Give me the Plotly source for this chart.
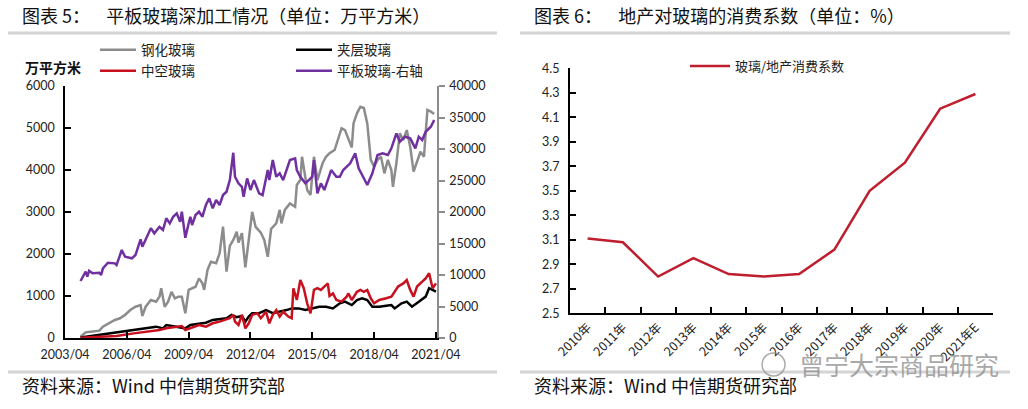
import plotly.graph_objects as go

# ---------------- Left chart data (万平方米 / 右轴 万重量箱) ----------------
gray_dates = ["2004-01","2004-04","2004-07","2004-12",
              "2005-02","2005-06","2005-09","2005-12",
              "2006-03","2006-06","2006-09","2006-12",
              "2007-01","2007-03","2007-06","2007-09","2007-11","2007-12",
              "2008-02","2008-04","2008-06","2008-08","2008-10","2008-12",
              "2009-02","2009-04","2009-06","2009-08","2009-10","2009-12",
              "2010-01","2010-03","2010-05","2010-08","2010-10","2010-12",
              "2011-02","2011-04","2011-06","2011-08","2011-09","2011-11",
              "2012-01","2012-03","2012-05","2012-07","2012-10","2012-12",
              "2013-02","2013-04","2013-07","2013-09","2013-10","2013-12",
              "2014-03","2014-06","2014-07","2014-09","2014-10","2014-12",
              "2015-01","2015-03","2015-05","2015-07","2015-10","2015-12",
              "2016-02","2016-05","2016-07","2016-09","2016-11",
              "2017-01","2017-03","2017-04","2017-06","2017-08","2017-10","2017-12",
              "2018-02","2018-04","2018-06","2018-08","2018-10","2018-12",
              "2019-02","2019-03","2019-05","2019-07","2019-09","2019-11",
              "2020-01","2020-03","2020-05","2020-07","2020-09","2020-11",
              "2021-01","2021-03"]
gray_vals = [30, 135, 150, 175,
             270, 365, 430, 470,
             550, 665, 745, 785,
             525, 745, 905, 865, 985, 1185,
             745, 865, 1100, 945, 985, 985,
             590, 1145, 1185, 1220, 1420, 1300,
             1145, 1620, 1815, 1780, 2015, 2650,
             1580, 2195, 2335, 2530, 2275, 2495,
             1680, 2295, 3005, 2645, 2510, 2335,
             1935, 2595, 2730, 3050, 2730, 3050,
             3205, 3125, 3645, 3760, 4315, 3810,
             3525, 3405, 4315, 3760, 4160, 4315,
             4400, 4475, 4755, 4995, 4950,
             4715, 4535, 5110, 5350, 5505, 5475, 5110,
             4240, 4080, 4240, 4315, 3920, 4240,
             4000, 3600, 4160, 4875, 4715, 4950,
             4555, 3960, 4200, 4435, 4315, 5430,
             5390, 5335]

black_dates = ["2004-01","2004-12","2005-10","2006-08","2007-03","2007-09",
               "2008-01","2008-03","2008-09","2009-02","2009-05","2009-10",
               "2010-02","2010-06","2010-10","2011-02","2011-05","2011-08","2011-11",
               "2012-01","2012-03","2012-05","2012-09","2013-01","2013-05","2013-09",
               "2014-01","2014-04","2014-08","2014-12","2015-04","2015-08","2015-12",
               "2016-04","2016-08","2016-11","2017-03","2017-06","2017-09","2017-12",
               "2018-03","2018-07","2018-11","2019-02","2019-04","2019-08","2019-11",
               "2020-02","2020-06","2020-10","2020-12","2021-02","2021-04"]
black_vals = [10, 70, 135, 175, 230, 270,
              230, 310, 270, 230, 310, 350,
              365, 430, 445, 470, 550, 495, 525,
              390, 510, 590, 590, 665, 590, 625,
              665, 705, 705, 665, 705, 745, 745,
              705, 825, 865, 785, 905, 945, 905,
              745, 745, 770, 785, 705, 825, 865,
              745, 865, 985, 1185, 1145, 1105]

red_dates = ["2004-01","2004-12","2005-10","2006-08","2007-05","2007-11",
             "2008-03","2008-09","2008-12","2009-02","2009-06","2009-10",
             "2010-02","2010-06","2010-10",
             "2011-01","2011-04","2011-06","2011-07","2011-09","2011-11",
             "2012-01","2012-03","2012-05","2012-08","2012-10",
             "2013-01","2013-03","2013-05","2013-07","2013-09","2013-11",
             "2014-02","2014-04","2014-05","2014-07","2014-09","2014-11",
             "2015-01","2015-03","2015-05","2015-07","2015-09","2015-11",
             "2016-01","2016-02","2016-04","2016-06","2016-09","2016-12",
             "2017-01","2017-03","2017-06","2017-08","2017-10","2017-12",
             "2018-02","2018-04","2018-07","2018-11",
             "2019-02","2019-06","2019-09","2019-11",
             "2020-01","2020-03","2020-05","2020-08","2020-10","2020-12",
             "2021-02","2021-04"]
red_vals = [5, 20, 50, 110, 150, 190,
            230, 255, 285, 190, 255, 310,
            270, 350, 390,
            430, 470, 550, 390, 310, 550,
            230, 350, 550, 590, 470,
            625, 350, 550, 665, 510, 625,
            510, 470, 1185, 905, 1380, 1185,
            825, 585, 1145, 1185, 1145, 1225,
            1300, 1000, 1060, 905, 865, 985,
            1060, 905, 1100, 1145, 1100, 1145,
            945, 825, 905, 945,
            985, 1225, 1300, 1380,
            1145, 985, 1225, 1340, 1420, 1540,
            1185, 1300]

purple_dates = ["2004-01","2004-04","2004-05","2004-06","2004-08","2004-12",
                "2005-01","2005-02","2005-05","2005-09","2005-10","2005-12",
                "2006-01","2006-03","2006-07","2006-09","2006-12",
                "2007-01","2007-04","2007-06","2007-08","2007-11",
                "2008-01","2008-03","2008-05","2008-07","2008-09","2008-11","2008-12",
                "2009-02","2009-04","2009-05","2009-06","2009-08","2009-10","2009-12",
                "2010-02","2010-04","2010-06","2010-08","2010-10","2010-12",
                "2011-02","2011-04","2011-06","2011-07","2011-09","2011-11","2011-12",
                "2012-02","2012-04","2012-06","2012-09","2012-11",
                "2013-02","2013-03","2013-05","2013-07","2013-09","2013-11",
                "2014-03","2014-06","2014-07","2014-09","2014-12",
                "2015-04","2015-05","2015-07","2015-09","2015-11",
                "2016-01","2016-03","2016-06","2016-08","2016-10",
                "2017-02","2017-05","2017-07","2017-09","2017-12",
                "2018-03","2018-06","2018-09","2018-12",
                "2019-02","2019-05","2019-07","2019-10",
                "2020-01","2020-04","2020-06","2020-08","2020-10",
                "2021-01","2021-03"]
purple_vals = [9050, 10520, 9730, 10680, 10270, 10360,
               10000, 11060, 11950, 11850, 11580, 13440,
               13970, 12900, 12650, 13170, 15660,
               14490, 16350, 17410, 16620, 17660,
               17140, 19000, 18200, 19250, 19790, 18460, 20040,
               15900, 18200, 19250, 17930, 19520, 20040, 19250,
               21110, 22170, 20580, 21900, 21110, 22690,
               23220, 25070, 29400, 25600, 24550, 24010, 22420,
               25340, 23490, 25070, 22960, 22690,
               26660, 25070, 28250, 25600, 26140, 25070,
               28250, 28520, 26660, 25600, 24550,
               25600, 28250, 22960, 24550, 23490,
               25070, 26660, 25600, 25600, 26660,
               27720, 29310, 26930, 25870, 24280,
               26140, 29040, 29310, 29040,
               30100, 32480, 31150, 31950,
               31690, 30100, 31950, 31420, 32740,
               33530, 34600]

left_tick_dates = ["2003-04-01", "2006-04-01", "2009-04-01", "2012-04-01",
                   "2015-04-01", "2018-04-01", "2021-04-01"]
left_tick_text = ["2003/04", "2006/04", "2009/04", "2012/04",
                  "2015/04", "2018/04", "2021/04"]

# ---------------- Right chart data ----------------
years = ["2010年", "2011年", "2012年", "2013年", "2014年", "2015年",
         "2016年", "2017年", "2018年", "2019年", "2020年", "2021年E"]
coef = [3.11, 3.08, 2.80, 2.95, 2.82, 2.80, 2.82, 3.02, 3.50, 3.73, 4.17, 4.29]

W, H = 1028, 409
def px_x(v): return v / W
def px_y(v): return 1 - v / H

CJK = "Noto Sans CJK SC"
NUM = "Lato, Noto Sans CJK SC"
NB = "\u00a0"

fig = go.Figure()
fig.add_trace(go.Scatter(x=gray_dates, y=gray_vals, name="钢化玻璃", mode="lines",
                         line=dict(color="#8C8C8C", width=2.5), xaxis="x", yaxis="y",
                         legend="legend"))
fig.add_trace(go.Scatter(x=black_dates, y=black_vals, name="夹层玻璃", mode="lines",
                         line=dict(color="#000000", width=2.5), xaxis="x", yaxis="y",
                         legend="legend"))
fig.add_trace(go.Scatter(x=red_dates, y=red_vals, name="中空玻璃", mode="lines",
                         line=dict(color="#C8101E", width=2.5), xaxis="x", yaxis="y",
                         legend="legend2"))
fig.add_trace(go.Scatter(x=purple_dates, y=purple_vals, name="平板玻璃-右轴", mode="lines",
                         line=dict(color="#7030A0", width=2.5), xaxis="x", yaxis="y2",
                         legend="legend2"))
fig.add_trace(go.Scatter(x=years, y=coef, name="玻璃/地产消费系数", mode="lines",
                         line=dict(color="#BE1E2D", width=2.5), xaxis="x2", yaxis="y3",
                         legend="legend3"))

tickfont = dict(family=NUM, size=12.5, color="#222")

fig.update_layout(
    width=W, height=H, margin=dict(l=0, r=0, t=0, b=0, autoexpand=False),
    paper_bgcolor="white", plot_bgcolor="white",
    font=dict(family=CJK, size=13, color="#222"),
    showlegend=True,
    xaxis=dict(domain=[px_x(65), px_x(437)], type="date",
               range=["2003-04-01", "2021-04-20"],
               tickmode="array", tickvals=left_tick_dates, ticktext=left_tick_text,
               ticks="inside", ticklen=6, tickwidth=1.5, tickcolor="#000",
               showline=True, linecolor="#000", linewidth=1.5, automargin=False,
               showgrid=False, zeroline=False, anchor="y", tickfont=tickfont,
               ticklabelstandoff=4),
    yaxis=dict(domain=[px_y(338), px_y(86)], range=[0, 6000], dtick=1000,
               ticks="inside", ticklen=6, tickwidth=1.5, tickcolor="#000",
               showline=True, linecolor="#000", linewidth=1.5, automargin=False,
               showgrid=False, zeroline=False, anchor="x", tickfont=tickfont,
               ticklabelstandoff=6),
    yaxis2=dict(overlaying="y", side="right", range=[0, 40000], dtick=5000,
                tickformat="d", automargin=False,
                ticks="outside", ticklen=6, tickwidth=1.5, tickcolor="#8C8C8C",
                showline=True, linecolor="#8C8C8C", linewidth=1.5,
                showgrid=False, zeroline=False, anchor="x", tickfont=tickfont,
                ticklabelstandoff=2),
    xaxis2=dict(domain=[px_x(570), px_x(993)], type="category",
                range=[-0.5, len(years) - 0.5],
                ticks="inside", tickson="boundaries", ticklen=6, tickwidth=1.5,
                tickcolor="#000", showline=True, linecolor="#000", linewidth=2,
                showgrid=False, zeroline=False, anchor="y3", tickangle=-45,
                automargin=False,
                tickfont=dict(family=CJK, size=12.5, color="#222")),
    yaxis3=dict(domain=[px_y(313.3), px_y(68.3)], range=[2.5, 4.5], dtick=0.2,
                tick0=2.5, tickformat=".1f", ticks="inside", ticklen=6, tickwidth=1.5,
                tickcolor="#000", showline=True, linecolor="#000", linewidth=2,
                showgrid=False, zeroline=False, anchor="x2", tickfont=tickfont,
                automargin=False, ticklabelstandoff=6),
    legend=dict(x=px_x(95), y=px_y(50), xanchor="left", yanchor="middle",
                orientation="h", entrywidth=145, entrywidthmode="pixels",
                font=dict(family=CJK, size=13.5, color="#222"),
                bgcolor="rgba(0,0,0,0)", traceorder="normal", itemwidth=36),
    legend2=dict(x=px_x(95), y=px_y(71), xanchor="left", yanchor="middle",
                 orientation="h", entrywidth=145, entrywidthmode="pixels",
                 font=dict(family=CJK, size=13.5, color="#222"),
                 bgcolor="rgba(0,0,0,0)", traceorder="normal", itemwidth=36),
    legend3=dict(x=px_x(685), y=px_y(66), xanchor="left", yanchor="middle",
                 orientation="h",
                 font=dict(family=CJK, size=13, color="#222"),
                 bgcolor="rgba(0,0,0,0)", itemwidth=40),
)

title_font = dict(family=CJK, size=18, color="#111")
annotations = [
    dict(text="图表" + NB + "5：" + NB * 4 + "平板玻璃深加工情况（单位：万平方米）",
         x=px_x(20), y=px_y(15), xanchor="left", yanchor="middle", font=title_font),
    dict(text="图表" + NB + "6：" + NB * 4 + "地产对玻璃的消费系数（单位：%）",
         x=px_x(532), y=px_y(15), xanchor="left", yanchor="middle", font=title_font),
    dict(text="资料来源：Wind 中信期货研究部", x=px_x(20), y=px_y(385),
         xanchor="left", yanchor="middle", font=title_font),
    dict(text="资料来源：Wind 中信期货研究部", x=px_x(532), y=px_y(385),
         xanchor="left", yanchor="middle", font=title_font),
    dict(text="<b>万平方米</b>", x=px_x(53), y=px_y(67),
         xanchor="center", yanchor="middle", font=dict(family=CJK, size=14, color="#111")),
    dict(text="曾宁大宗商品研究", x=px_x(797), y=px_y(364),
         xanchor="left", yanchor="middle",
         font=dict(family=CJK, size=25, color="rgba(140,140,140,0.75)")),
]
for a in annotations:
    a.update(xref="paper", yref="paper", showarrow=False)
fig.update_layout(annotations=annotations)

sep = "#D4D4D4"
shapes = [
    dict(type="line", x0=px_x(8), x1=px_x(497), y0=px_y(33), y1=px_y(33),
         line=dict(color=sep, width=3)),
    dict(type="line", x0=px_x(520), x1=px_x(1010), y0=px_y(33), y1=px_y(33),
         line=dict(color=sep, width=3)),
    dict(type="line", x0=px_x(8), x1=px_x(497), y0=px_y(372), y1=px_y(372),
         line=dict(color=sep, width=3)),
    dict(type="line", x0=px_x(520), x1=px_x(1010), y0=px_y(372), y1=px_y(372),
         line=dict(color=sep, width=3)),
    dict(type="circle", x0=px_x(762), x1=px_x(785), y0=px_y(376), y1=px_y(353),
         line=dict(color="rgba(140,140,140,0.75)", width=1.5)),
]
for s in shapes:
    s.update(xref="paper", yref="paper")
fig.update_layout(shapes=shapes)

fig.write_html("out.html")
